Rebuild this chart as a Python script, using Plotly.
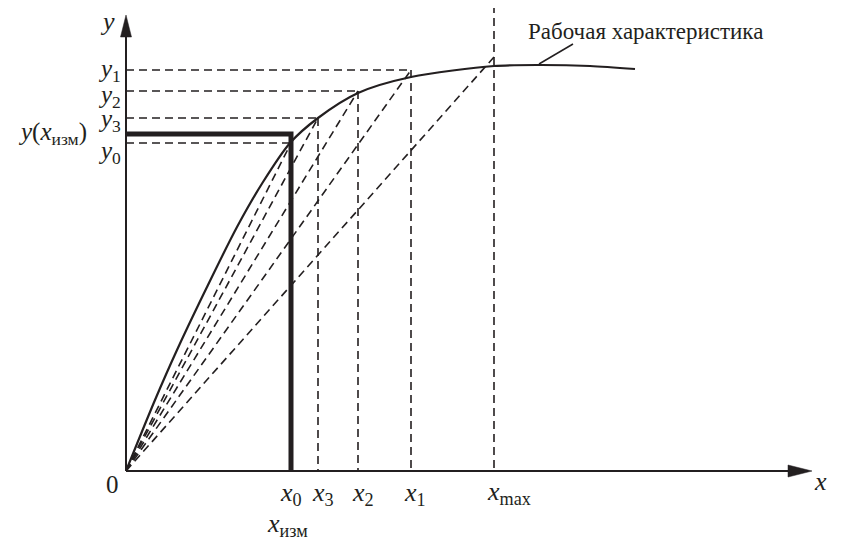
import plotly.graph_objects as go

# Schematic units: origin at (0, 0)
curve_x = [0, 29, 51, 81, 111, 137, 164, 192, 232, 285, 368, 414, 464, 509]
curve_y = [0, 71, 121, 184, 244, 289, 328, 353, 378, 394, 405, 406, 405, 402]

# construction points
pt_names = ["x0", "x3", "x2", "x1"]
pt_x = [165, 192, 232, 285]
pt_y = [328, 353, 380, 401]
x_max = 368
x_max_chord_y = 414
x_max_top = 466
y_meas = 337

x_tick_labels = ["<i>x</i><sub>0</sub>", "<i>x</i><sub>3</sub>", "<i>x</i><sub>2</sub>", "<i>x</i><sub>1</sub>"]
y_tick_labels = ["<i>y</i><sub>0</sub>", "<i>y</i><sub>3</sub>", "<i>y</i><sub>2</sub>", "<i>y</i><sub>1</sub>"]
curve_label = "Рабочая характеристика"

INK = "#231f20"
DASH = "8px,5px"
FONT = "Liberation Serif"

fig = go.Figure()

# dashed chords from origin
chord_x = pt_x + [x_max]
chord_y = pt_y + [x_max_chord_y]
for cx, cy in zip(chord_x, chord_y):
    fig.add_trace(go.Scatter(x=[0, cx], y=[0, cy], mode="lines",
                             line=dict(color=INK, width=1.6, dash=DASH),
                             hoverinfo="skip", showlegend=False))

# dashed horizontal & vertical projections
for px, py in zip(pt_x, pt_y):
    fig.add_trace(go.Scatter(x=[0, px], y=[py, py], mode="lines",
                             line=dict(color=INK, width=1.6, dash=DASH),
                             hoverinfo="skip", showlegend=False))
    if px != pt_x[0]:
        fig.add_trace(go.Scatter(x=[px, px], y=[py, 0], mode="lines",
                                 line=dict(color=INK, width=1.6, dash=DASH),
                                 hoverinfo="skip", showlegend=False))

# x_max vertical
fig.add_trace(go.Scatter(x=[x_max, x_max], y=[x_max_top, 0], mode="lines",
                         line=dict(color=INK, width=1.6, dash=DASH),
                         hoverinfo="skip", showlegend=False))

# thick measurement lines
fig.add_trace(go.Scatter(x=[0, pt_x[0], pt_x[0]], y=[y_meas, y_meas, 0], mode="lines",
                         line=dict(color=INK, width=5),
                         hoverinfo="skip", showlegend=False))

# working characteristic
fig.add_trace(go.Scatter(x=curve_x, y=curve_y, mode="lines",
                         line=dict(color=INK, width=2.2, shape="spline", smoothing=0.8),
                         hoverinfo="skip", showlegend=False))

# axes
shapes = [
    dict(type="line", x0=0, y0=0, x1=668, y1=0, line=dict(color=INK, width=2)),
    dict(type="line", x0=0, y0=0, x1=0, y1=436, line=dict(color=INK, width=2)),
    dict(type="path", path="M 686 0 L 662 6 L 662 -6 Z", fillcolor=INK, line=dict(color=INK, width=0.5)),
    dict(type="path", path="M 0 456 L -5.5 434 L 5.5 434 Z", fillcolor=INK, line=dict(color=INK, width=0.5)),
    # pointer to curve label
    dict(type="line", x0=413, y0=407, x1=447, y1=427, line=dict(color=INK, width=1.5)),
]

ann = []
def lab(x, y, text, size=26, xanchor="center"):
    ann.append(dict(x=x, y=y, text=text, showarrow=False, xanchor=xanchor, yanchor="middle",
                    font=dict(family=FONT, size=size, color=INK)))

# x labels
x_lab_pos = [165, 197, 237, 289]
for xp, t in zip(x_lab_pos, x_tick_labels):
    lab(xp, -23, t)
lab(383, -22, "<i>x</i><sub>max</sub>")
lab(161, -54, "<i>x</i><sub>изм</sub>")
lab(-14, -13, "0", size=25)
lab(694, -10, "<i>x</i>")
lab(-19, 450, "<i>y</i>")

# y labels
y_lab_pos = [319, 351, 375, 401]
for yp, t in zip(y_lab_pos, y_tick_labels):
    lab(-17, yp, t, size=25)
lab(-74, 338, "<i>y</i>(<i>x</i><sub>изм</sub>)", size=25)

lab(519, 440, curve_label, size=23)

# page body has an 8px margin: compensate so that 1 unit = 1 screen pixel
fig.update_layout(
    width=833, height=533,
    margin=dict(l=0, r=0, t=0, b=0),
    paper_bgcolor="white", plot_bgcolor="white",
    xaxis=dict(range=[-118, 715], visible=False, fixedrange=True),
    yaxis=dict(range=[-70, 463], visible=False, fixedrange=True),
    shapes=shapes, annotations=ann,
)

fig.write_html("out.html")
